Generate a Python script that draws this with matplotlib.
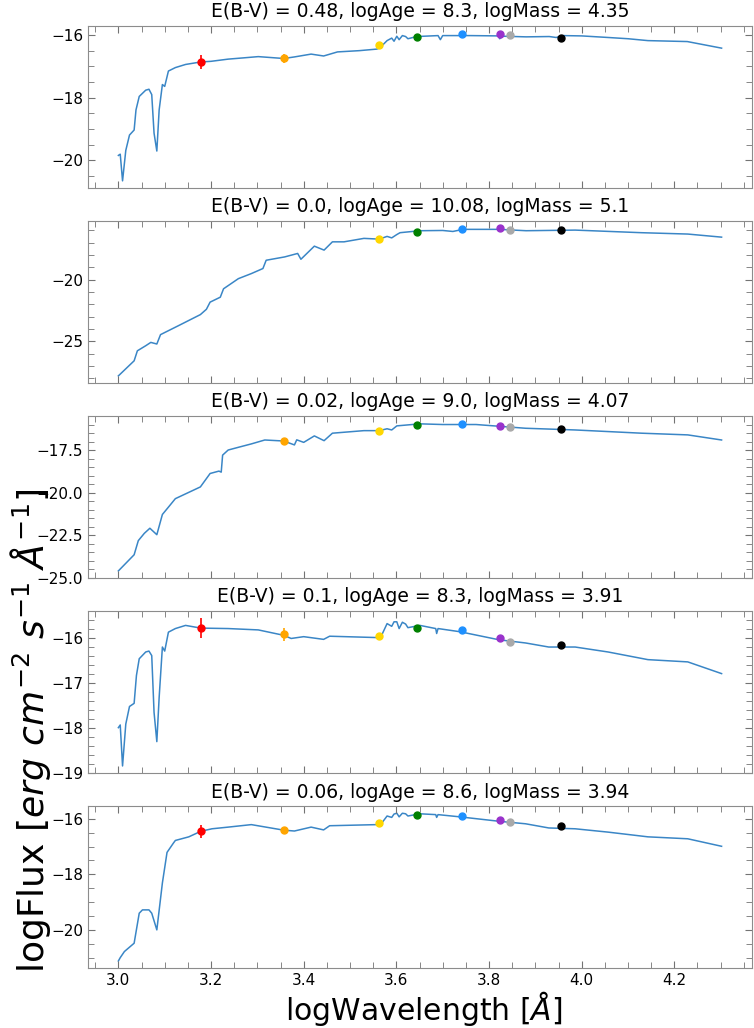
import numpy as np
import matplotlib
matplotlib.use("Agg")
import matplotlib.pyplot as plt
from matplotlib.ticker import MultipleLocator, AutoMinorLocator

# model spectra (logWavelength, logFlux) read per panel
wl1 = [3.000, 3.004, 3.009, 3.016, 3.024, 3.034, 3.038, 3.045, 3.059, 3.066,
       3.072, 3.077, 3.083, 3.088, 3.095, 3.100, 3.108, 3.123, 3.145, 3.178,
       3.200, 3.237, 3.270, 3.302, 3.357, 3.380, 3.416, 3.443, 3.473, 3.520,
       3.558, 3.565, 3.580, 3.590, 3.595, 3.601, 3.606, 3.613, 3.620, 3.625,
       3.644, 3.690, 3.695, 3.700, 3.760, 3.820, 3.823, 3.830, 3.880, 3.930,
       3.945, 3.960, 4.000, 4.057, 4.100, 4.143, 4.228, 4.302]
fl1 = [-19.84, -19.80, -20.65, -19.68, -19.19, -19.03, -18.39, -17.96, -17.76, -17.73,
       -17.90, -19.13, -19.70, -18.39, -17.58, -17.64, -17.15, -17.04, -16.94, -16.86,
       -16.84, -16.77, -16.73, -16.69, -16.75, -16.70, -16.61, -16.67, -16.54, -16.50,
       -16.45, -16.40, -16.18, -16.10, -16.20, -16.04, -16.15, -16.02, -16.05, -16.12,
       -16.05, -16.02, -16.15, -16.02, -16.02, -16.03, -16.12, -16.04, -16.06, -16.05,
       -16.08, -16.02, -16.03, -16.08, -16.12, -16.18, -16.21, -16.42]

wl2 = [3.000, 3.034, 3.041, 3.059, 3.070, 3.083, 3.091, 3.130, 3.177, 3.190,
       3.198, 3.220, 3.227, 3.259, 3.287, 3.312, 3.319, 3.359, 3.387, 3.394,
       3.423, 3.444, 3.462, 3.487, 3.530, 3.563, 3.580, 3.590, 3.601, 3.608,
       3.651, 3.700, 3.722, 3.744, 3.822, 3.880, 3.986, 4.129, 4.229, 4.302]
fl2 = [-27.79, -26.57, -25.76, -25.35, -25.08, -25.21, -24.45, -23.72, -22.83, -22.40,
       -21.82, -21.42, -20.74, -19.92, -19.51, -19.10, -18.43, -18.16, -17.88, -18.35,
       -17.29, -17.61, -16.94, -16.94, -16.66, -16.72, -16.50, -16.62, -16.35, -16.20,
       -16.04, -16.02, -16.10, -15.93, -15.93, -16.04, -15.99, -16.20, -16.31, -16.56]

wl3 = [3.000, 3.034, 3.043, 3.056, 3.068, 3.083, 3.095, 3.108, 3.123, 3.177,
       3.198, 3.217, 3.222, 3.225, 3.237, 3.259, 3.287, 3.316, 3.357, 3.380,
       3.385, 3.400, 3.423, 3.444, 3.462, 3.530, 3.563, 3.580, 3.590, 3.601,
       3.651, 3.700, 3.772, 3.879, 3.986, 4.129, 4.229, 4.302]
fl3 = [-24.61, -23.66, -22.83, -22.40, -22.10, -22.48, -21.29, -20.86, -20.36, -19.67,
       -18.88, -18.74, -18.80, -17.80, -17.50, -17.34, -17.14, -16.91, -16.97, -17.20,
       -16.90, -17.05, -16.67, -16.95, -16.51, -16.36, -16.36, -16.25, -16.32, -16.08,
       -15.96, -16.00, -16.00, -16.22, -16.32, -16.51, -16.61, -16.91]

wl4 = [3.000, 3.004, 3.009, 3.016, 3.024, 3.034, 3.039, 3.045, 3.059, 3.066,
       3.072, 3.077, 3.083, 3.088, 3.095, 3.100, 3.108, 3.123, 3.145, 3.178,
       3.237, 3.302, 3.357, 3.373, 3.400, 3.443, 3.456, 3.558, 3.565, 3.580,
       3.590, 3.595, 3.601, 3.606, 3.613, 3.620, 3.625, 3.651, 3.685, 3.687,
       3.690, 3.737, 3.822, 3.879, 3.929, 3.986, 4.057, 4.143, 4.229, 4.302]
fl4 = [-18.00, -17.94, -18.85, -17.92, -17.53, -17.46, -16.84, -16.47, -16.32, -16.30,
       -16.40, -17.66, -18.31, -17.33, -16.21, -16.30, -15.88, -15.80, -15.73, -15.79,
       -15.80, -15.83, -15.95, -16.02, -15.98, -16.04, -15.97, -16.00, -16.02, -15.69,
       -15.75, -15.65, -15.65, -15.80, -15.66, -15.70, -15.78, -15.73, -15.80, -15.91,
       -15.80, -15.87, -16.05, -16.12, -16.21, -16.21, -16.32, -16.49, -16.54, -16.80]

wl5 = [3.000, 3.004, 3.013, 3.034, 3.045, 3.052, 3.066, 3.072, 3.083, 3.095,
       3.105, 3.119, 3.123, 3.152, 3.178, 3.202, 3.237, 3.287, 3.357, 3.380,
       3.416, 3.443, 3.456, 3.558, 3.565, 3.580, 3.590, 3.595, 3.601, 3.606,
       3.613, 3.620, 3.625, 3.651, 3.685, 3.687, 3.690, 3.737, 3.822, 3.879,
       3.929, 3.986, 4.057, 4.143, 4.229, 4.302]
fl5 = [-21.12, -21.00, -20.78, -20.48, -19.40, -19.28, -19.28, -19.40, -20.00, -18.31,
       -17.21, -16.87, -16.78, -16.65, -16.45, -16.36, -16.30, -16.21, -16.41, -16.44,
       -16.30, -16.40, -16.25, -16.21, -16.23, -15.90, -15.95, -15.83, -15.80, -15.93,
       -15.80, -15.82, -15.90, -15.82, -15.85, -15.95, -15.85, -15.93, -16.09, -16.18,
       -16.33, -16.36, -16.48, -16.65, -16.72, -16.99]

# photometry
filter_wl = [3.178, 3.357, 3.563, 3.644, 3.742, 3.824, 3.845, 3.955]
filter_colors = ['red', 'orange', 'gold', 'green', 'dodgerblue', 'darkorchid', 'darkgrey', 'black']
nan = np.nan
phot1 = [-16.86, -16.75, -16.32, -16.06, -15.96, -15.96, -16.00, -16.10]
phot2 = [nan, nan, -16.72, -16.17, -15.90, -15.85, -15.99, -16.01]
phot3 = [nan, -16.97, -16.36, -16.04, -15.94, -16.08, -16.16, -16.27]
phot4 = [-15.79, -15.93, -15.97, -15.78, -15.84, -16.02, -16.09, -16.17]
phot5 = [-16.45, -16.41, -16.15, -15.88, -15.90, -16.04, -16.10, -16.27]
err1 = [0.22, 0.15, 0.03, 0.02, 0.02, 0.02, 0.02, 0.02]
err2 = [0.0, 0.0, 0.03, 0.02, 0.02, 0.02, 0.02, 0.02]
err3 = [0.0, 0.05, 0.03, 0.02, 0.02, 0.02, 0.02, 0.02]
err4 = [0.22, 0.15, 0.03, 0.02, 0.02, 0.02, 0.02, 0.02]
err5 = [0.23, 0.08, 0.03, 0.02, 0.02, 0.02, 0.02, 0.02]

titles = ['E(B-V) = 0.48, logAge = 8.3, logMass = 4.35',
          'E(B-V) = 0.0, logAge = 10.08, logMass = 5.1',
          'E(B-V) = 0.02, logAge = 9.0, logMass = 4.07',
          'E(B-V) = 0.1, logAge = 8.3, logMass = 3.91',
          'E(B-V) = 0.06, logAge = 8.6, logMass = 3.94']

spectra = [(wl1, fl1), (wl2, fl2), (wl3, fl3), (wl4, fl4), (wl5, fl5)]
phots = [(phot1, err1), (phot2, err2), (phot3, err3), (phot4, err4), (phot5, err5)]

plt.rcParams['axes.edgecolor'] = '0.55'
plt.rcParams['xtick.color'] = '0.45'
plt.rcParams['ytick.color'] = '0.45'
plt.rcParams['xtick.labelcolor'] = 'black'
plt.rcParams['ytick.labelcolor'] = 'black'

fig, axes = plt.subplots(5, 1, figsize=(7.54, 10.28), dpi=100, sharex=True)
fig.subplots_adjust(left=0.117, right=0.997, top=0.975, bottom=0.058, hspace=0.2)

for ax, (wl, fl), (ph, er), title in zip(axes, spectra, phots, titles):
    ax.plot(wl, fl, color='#3a86c6', lw=1.1, zorder=1)
    for w, p, e, c in zip(filter_wl, ph, er, filter_colors):
        if np.isnan(p):
            continue
        ax.errorbar(w, p, yerr=e, fmt='o', color=c, ms=5, elinewidth=1.2, zorder=3)
    ax.set_title(title, fontsize=13.5)
    ax.minorticks_on()
    ax.tick_params(which='both', direction='in', top=True, right=True, labelsize=11)
    ax.tick_params(which='major', length=5)
    ax.tick_params(which='minor', length=4)

# third panel uses 2.5 steps
axes[2].yaxis.set_major_locator(MultipleLocator(2.5))
axes[2].yaxis.set_minor_locator(AutoMinorLocator(5))

fig.text(0.5617, 0.019, r'logWavelength [$\AA$]', fontsize=21.5, ha='center', va='center')
fig.text(0.040, 0.289, r'logFlux [$erg\ cm^{-2}\ s^{-1}\ \AA^{-1}$]', fontsize=26,
         rotation=90, ha='center', va='center')

fig.savefig('out.png', dpi=100)
